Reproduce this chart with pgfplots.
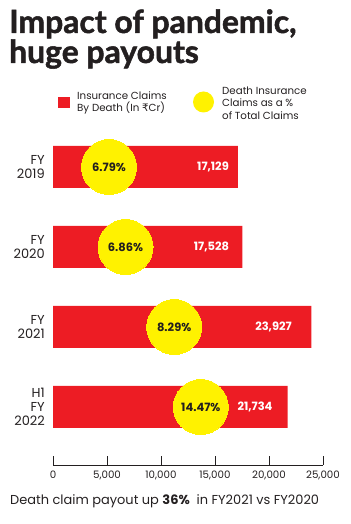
\documentclass[border=0pt]{standalone}
\usepackage{pgfplots}
\pgfplotsset{compat=1.18}
\usepackage{fontspec}
\setmainfont{Poppins}
\newfontfamily\titlefont[BoldFeatures={FakeBold=1.6}]{Lato}
\newfontfamily\rupeefont{DejaVu Sans}
\definecolor{barred}{HTML}{ED1C24}
\definecolor{circyellow}{HTML}{FFF200}
\definecolor{ink}{HTML}{231F20}

\pgfplotstableread{
x y
17129 3
17528 2
23927 1
21734 0
}\claims

\pgfplotstableread{
x y label
5185 3 6.79\%
6713 2 6.86\%
11220 1 8.29\%
13685 0 14.47\%
}\shares

\pgfplotstableread{
x y label
14815 3 17,129
14676 2 17,528
20417 1 23,927
18704 0 21,734
}\vallabels

\begin{document}
\begin{tikzpicture}[x=1bp,y=1bp]
\useasboundingbox (0,0) rectangle (350,524);
% Title
\node[anchor=base west, inner sep=0, text=ink, font=\titlefont\bfseries\fontsize{32}{32}\selectfont] at (9,491) {Impact of pandemic,};
\node[anchor=base west, inner sep=0, text=ink, font=\titlefont\bfseries\fontsize{32}{32}\selectfont] at (9,461) {huge payouts};
% Legend
\fill[barred] (58,416) rectangle (70,427);
\node[anchor=west, align=left, inner sep=0, text=ink, font=\fontsize{10.3}{12}\selectfont] at (77,421) {Insurance Claims\\By Death (In {\rupeefont ₹}Cr)};
\fill[circyellow] (203.5,422) circle (10.5);
\node[anchor=west, align=left, inner sep=0, text=ink, font=\fontsize{10.3}{12.5}\selectfont] at (222,421) {Death Insurance\\Claims as a \%\\of Total Claims};
\begin{axis}[
  at={(53bp,59bp)}, anchor=south west,
  scale only axis, width=270bp, height=346bp,
  xmin=0, xmax=25000, ymin=-0.725, ymax=3.6,
  axis x line=bottom, axis y line=left,
  axis line style={-, draw=ink, line width=0.8pt},
  y axis line style={draw=none},
  ytick={0,1,2,3},
  yticklabels={{H1\\FY\\2022},{FY\\2021},{FY\\2020},{FY\\2019}},
  ytick style={draw=none},
  yticklabel style={align=right, inner sep=0pt, xshift=-8bp, text=ink, font=\fontsize{13}{14}\selectfont},
  xtick={0,5000,10000,15000,20000,25000},
  tick align=inside,
  major tick length=9bp,
  xtick style={draw=ink, line width=0.8pt},
  xticklabel style={inner sep=0pt, yshift=-6bp, text=ink, font=\fontsize{10.3}{10}\selectfont},
  /pgf/number format/assume math mode=true,
  /pgf/number format/1000 sep={,},
  scaled x ticks=false,
  clip=false,
]
\addplot[xbar, bar width=42bp, fill=barred, draw=none] table[x=x, y=y] {\claims};
\addplot[only marks, mark=*, mark size=27.5bp, mark options={fill=circyellow, draw=circyellow, line width=0pt},
  nodes near coords, point meta=explicit symbolic, nodes near coords align=center,
  every node near coord/.style={anchor=center, text=ink, font=\bfseries\fontsize{11.5}{12}\selectfont}]
  table[x=x, y=y, meta=label] {\shares};
\addplot[draw=none, mark=none,
  nodes near coords, point meta=explicit symbolic, nodes near coords align=center,
  every node near coord/.style={anchor=center, text=white, font=\bfseries\fontsize{11.5}{12}\selectfont}]
  table[x=x, y=y, meta=label] {\vallabels};
\end{axis}
% Caption
\node[anchor=base west, inner sep=0, text=ink, font=\fontsize{13}{14}\selectfont] at (10,19) {Death claim payout up \textbf{36\%}\ \ in FY2021 vs FY2020};
\end{tikzpicture}
\end{document}
